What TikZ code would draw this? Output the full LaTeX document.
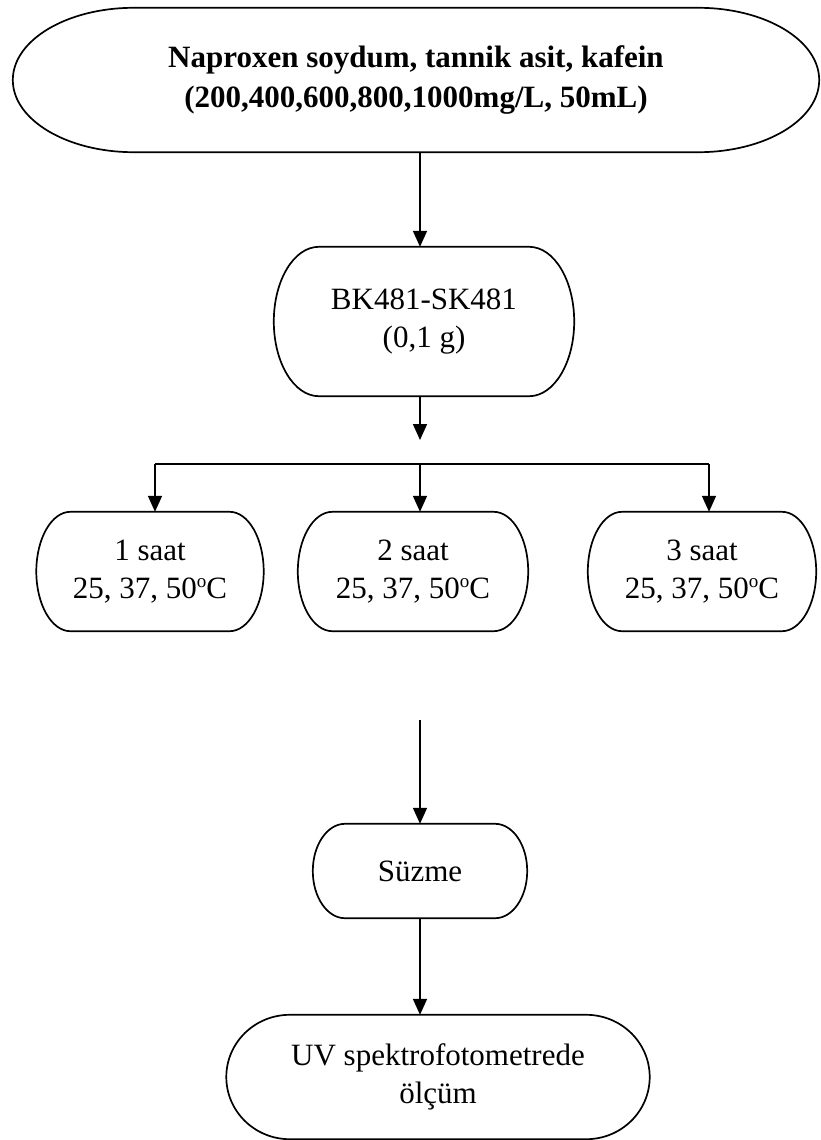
\documentclass[tikz,border=0pt]{standalone}
\usepackage{fontspec}
\setmainfont{Liberation Serif}
\usetikzlibrary{arrows.meta,calc}
\newcommand{\degsup}{\raisebox{11pt}{\fontsize{19}{19}\selectfont o}}
\tikzset{
  stepnode/.style={rectangle,inner sep=0pt,align=center,
    font=\fontsize{31}{38}\selectfont},
  arr/.style={line width=1.7pt,-{Triangle[length=16pt,width=14pt]}},
  outline/.style={line width=1.7pt}
}
\begin{document}
\begin{tikzpicture}[x=1pt,y=1pt]
    \useasboundingbox (0,0) rectangle (821,-1140);
    \path (416,-80) node[stepnode,minimum width=806,minimum height=144,
        font=\fontsize{31}{40}\selectfont\bfseries] (src)
        {Naproxen soydum, tannik asit, kafein\\(200,400,600,800,1000mg/L, 50mL)};
    \path (424,-321.5) node[stepnode,minimum width=300,minimum height=149] (ads) {BK481-SK481\\(0,1 g)};
    \path (150,-571.5) node[stepnode,minimum width=227,minimum height=119] (t1) {1 saat\\25, 37, 50\degsup C};
    \path (413,-571.5) node[stepnode,minimum width=230,minimum height=119] (t2) {2 saat\\25, 37, 50\degsup C};
    \path (702,-571.5) node[stepnode,minimum width=228,minimum height=119] (t3) {3 saat\\25, 37, 50\degsup C};
    \path (420,-871) node[stepnode,minimum width=214,minimum height=94] (filt) {Süzme};
    \path (438,-1077) node[stepnode,minimum width=423,minimum height=124] (uv) {UV spektrofotometrede\\ölçüm};
    \foreach \nd in {src,ads,t1,t2,t3,filt,uv}
      \draw[outline] let \p1=(\nd.north east), \p2=(\nd.south west),
          \n1={0.15*(\x1-\x2)}, \n2={0.5*(\y1-\y2)} in
        ([xshift=\n1]\nd.north west) -- ([xshift=-\n1]\nd.north east)
        arc[start angle=90,end angle=-90,x radius=\n1,y radius=\n2]
        -- ([xshift=\n1]\nd.south west)
        arc[start angle=270,end angle=90,x radius=\n1,y radius=\n2] -- cycle;
    \coordinate (split) at (420,-440);
    \coordinate (barL) at (155,-464);
    \coordinate (barM) at (420,-464);
    \coordinate (barR) at (709,-464);
    \coordinate (join) at (420,-720);
    \draw [arr] (src.south -| split) -- (ads.north -| split);
    \draw [arr] (ads.south -| split) -- (split);
    \draw [line width=1.7pt] (barL) -- (barR);
    \draw [arr] (barL) -- (barL |- t1.north);
    \draw [arr] (barM) -- (barM |- t2.north);
    \draw [arr] (barR) -- (barR |- t3.north);
    \draw [arr] (join) -- (join |- filt.north);
    \draw [arr] (filt.south) -- (filt.south |- uv.north);
\end{tikzpicture}
\end{document}
